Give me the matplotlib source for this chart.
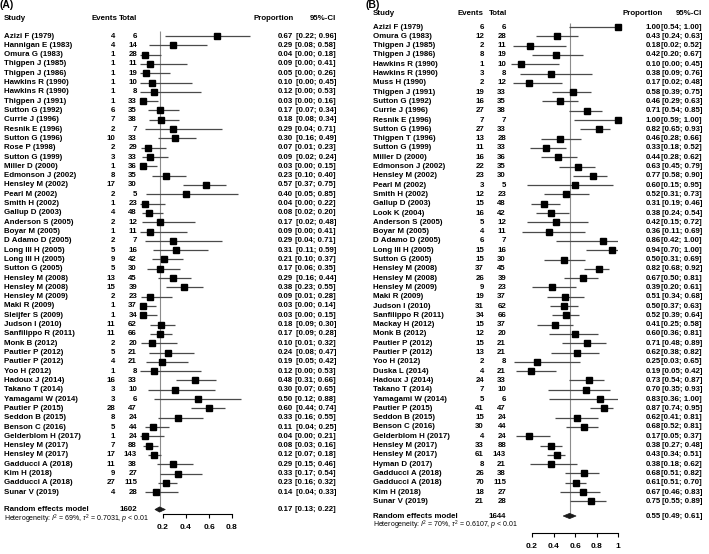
import matplotlib
matplotlib.use("Agg")
import matplotlib.pyplot as plt
from matplotlib.patches import Polygon
from matplotlib.transforms import blended_transform_factory

plt.rcParams['font.family'] = ['Liberation Sans', 'DejaVu Sans']
plt.rcParams['mathtext.fontset'] = 'custom'
plt.rcParams['mathtext.rm'] = 'Liberation Sans'
plt.rcParams['mathtext.it'] = 'Liberation Sans:italic'

# ---------------- Panel A data ----------------
studies_A = ["Azizi F (1979)", "Hannigan E (1983)", "Omura G (1983)", "Thigpen J (1985)",
             "Thigpen J (1986)", "Hawkins R (1990)", "Hawkins R (1990)", "Thigpen J (1991)",
             "Sutton G (1992)", "Currie J (1996)", "Resnik E (1996)", "Sutton G (1996)",
             "Rose P (1998)", "Sutton G (1999)", "Miller D (2000)", "Edmonson J (2002)",
             "Hensley M (2002)", "Pearl M (2002)", "Smith H (2002)", "Gallup D (2003)",
             "Anderson S (2005)", "Boyar M (2005)", "D Adamo D (2005)", "Long III H (2005)",
             "Long III H (2005)", "Sutton G (2005)", "Hensley M (2008)", "Hensley M (2008)",
             "Hensley M (2009)", "Maki R (2009)", "Sleijfer S (2009)", "Judson I (2010)",
             "Sanfilippo R (2011)", "Monk B (2012)", "Pautier P (2012)", "Pautier P (2012)",
             "Yoo H (2012)", "Hadoux J (2014)", "Takano T (2014)", "Yamagami W (2014)",
             "Pautier P (2015)", "Seddon B (2015)", "Benson C (2016)", "Gelderblom H (2017)",
             "Hensley M (2017)", "Hensley M (2017)", "Gadducci A (2018)", "Kim H (2018)",
             "Gadducci A (2018)", "Sunar V (2019)"]
events_A = [4, 4, 1, 1, 1, 1, 1, 1, 6, 7, 2, 10, 2, 3, 1, 8, 17, 2, 1, 4, 2, 1, 2, 5, 9, 5,
            13, 15, 2, 1, 1, 11, 11, 2, 5, 4, 1, 16, 3, 3, 28, 8, 5, 1, 7, 17, 11, 9, 27, 4]
total_A = [6, 14, 28, 11, 19, 10, 8, 33, 35, 38, 7, 33, 29, 33, 36, 35, 30, 5, 23, 48, 12, 11,
           7, 16, 42, 30, 45, 39, 23, 37, 34, 62, 66, 20, 21, 21, 8, 33, 10, 6, 47, 24, 44, 24,
           88, 143, 38, 27, 115, 28]
prop_A = [0.67, 0.29, 0.04, 0.09, 0.05, 0.10, 0.12, 0.03, 0.17, 0.18, 0.29, 0.30, 0.07, 0.09,
          0.03, 0.23, 0.57, 0.40, 0.04, 0.08, 0.17, 0.09, 0.29, 0.31, 0.21, 0.17, 0.29, 0.38,
          0.09, 0.03, 0.03, 0.18, 0.17, 0.10, 0.24, 0.19, 0.12, 0.48, 0.30, 0.50, 0.60, 0.33,
          0.11, 0.04, 0.08, 0.12, 0.29, 0.33, 0.23, 0.14]
lo_A = [0.22, 0.08, 0.00, 0.00, 0.00, 0.00, 0.00, 0.00, 0.07, 0.08, 0.04, 0.16, 0.01, 0.02,
        0.00, 0.10, 0.37, 0.05, 0.00, 0.02, 0.02, 0.00, 0.04, 0.11, 0.10, 0.06, 0.16, 0.23,
        0.01, 0.00, 0.00, 0.09, 0.09, 0.01, 0.08, 0.05, 0.00, 0.31, 0.07, 0.12, 0.44, 0.16,
        0.04, 0.00, 0.03, 0.07, 0.15, 0.17, 0.16, 0.04]
hi_A = [0.96, 0.58, 0.18, 0.41, 0.26, 0.45, 0.53, 0.16, 0.34, 0.34, 0.71, 0.49, 0.23, 0.24,
        0.15, 0.40, 0.75, 0.85, 0.22, 0.20, 0.48, 0.41, 0.71, 0.59, 0.37, 0.35, 0.44, 0.55,
        0.28, 0.14, 0.15, 0.30, 0.28, 0.32, 0.47, 0.42, 0.53, 0.66, 0.65, 0.88, 0.74, 0.55,
        0.25, 0.21, 0.16, 0.18, 0.46, 0.54, 0.32, 0.33]
pooled_A = [0.17, 0.13, 0.22]
n_total_A = 1602
het_A = r"Heterogeneity: $I^2$ = 69%, $\tau^2$ = 0.7031, $p$ < 0.01"
ticks_A = [0.2, 0.4, 0.6, 0.8]
ticklabels_A = ["0.2", "0.4", "0.6", "0.8"]

# ---------------- Panel B data ----------------
studies_B = ["Azizi F (1979)", "Omura G (1983)", "Thigpen J (1985)", "Thigpen J (1986)",
             "Hawkins R (1990)", "Hawkins R (1990)", "Muss H (1990)", "Thigpen J (1991)",
             "Sutton G (1992)", "Currie J (1996)", "Resnik E (1996)", "Sutton G (1996)",
             "Thigpen T (1996)", "Sutton G (1999)", "Miller D (2000)", "Edmonson J (2002)",
             "Hensley M (2002)", "Pearl M (2002)", "Smith H (2002)", "Gallup D (2003)",
             "Look K (2004)", "Anderson S (2005)", "Boyar M (2005)", "D Adamo D (2005)",
             "Long III H (2005)", "Sutton G (2005)", "Hensley M (2008)", "Hensley M (2008)",
             "Hensley M (2009)", "Maki R (2009)", "Judson I (2010)", "Sanfilippo R (2011)",
             "Mackay H (2012)", "Monk B (2012)", "Pautier P (2012)", "Pautier P (2012)",
             "Yoo H (2012)", "Duska L (2014)", "Hadoux J (2014)", "Takano T (2014)",
             "Yamagami W (2014)", "Pautier P (2015)", "Seddon B (2015)", "Benson C (2016)",
             "Gelderblom H (2017)", "Hensley M (2017)", "Hensley M (2017)", "Hyman D (2017)",
             "Gadducci A (2018)", "Gadducci A (2018)", "Kim H (2018)", "Sunar V (2019)"]
events_B = [6, 12, 2, 8, 1, 3, 2, 19, 16, 27, 7, 27, 13, 11, 16, 22, 23, 3, 12, 15, 16, 5, 4,
            6, 15, 15, 37, 26, 9, 19, 31, 34, 15, 12, 15, 13, 2, 4, 24, 7, 5, 41, 15, 30, 4,
            33, 61, 8, 26, 70, 18, 21]
total_B = [6, 28, 11, 19, 10, 8, 12, 33, 35, 38, 7, 33, 28, 33, 36, 35, 30, 5, 23, 48, 42, 12,
           11, 7, 16, 30, 45, 39, 23, 37, 62, 66, 37, 20, 21, 21, 8, 21, 33, 10, 6, 47, 24, 44,
           24, 88, 143, 21, 38, 115, 27, 28]
prop_B = [1.00, 0.43, 0.18, 0.42, 0.10, 0.38, 0.17, 0.58, 0.46, 0.71, 1.00, 0.82, 0.46, 0.33,
          0.44, 0.63, 0.77, 0.60, 0.52, 0.31, 0.38, 0.42, 0.36, 0.86, 0.94, 0.50, 0.82, 0.67,
          0.39, 0.51, 0.50, 0.52, 0.41, 0.60, 0.71, 0.62, 0.25, 0.19, 0.73, 0.70, 0.83, 0.87,
          0.62, 0.68, 0.17, 0.38, 0.43, 0.38, 0.68, 0.61, 0.67, 0.75]
lo_B = [0.54, 0.24, 0.02, 0.20, 0.00, 0.09, 0.02, 0.39, 0.29, 0.54, 0.59, 0.65, 0.28, 0.18,
        0.28, 0.45, 0.58, 0.15, 0.31, 0.19, 0.24, 0.15, 0.11, 0.42, 0.70, 0.31, 0.68, 0.50,
        0.20, 0.34, 0.37, 0.39, 0.25, 0.36, 0.48, 0.38, 0.03, 0.05, 0.54, 0.35, 0.36, 0.74,
        0.41, 0.52, 0.05, 0.27, 0.34, 0.18, 0.51, 0.51, 0.46, 0.55]
hi_B = [1.00, 0.63, 0.52, 0.67, 0.45, 0.76, 0.48, 0.75, 0.63, 0.85, 1.00, 0.93, 0.66, 0.52,
        0.62, 0.79, 0.90, 0.95, 0.73, 0.46, 0.54, 0.72, 0.69, 1.00, 1.00, 0.69, 0.92, 0.81,
        0.61, 0.68, 0.63, 0.64, 0.58, 0.81, 0.89, 0.82, 0.65, 0.42, 0.87, 0.93, 1.00, 0.95,
        0.81, 0.81, 0.37, 0.48, 0.51, 0.62, 0.82, 0.70, 0.83, 0.89]
pooled_B = [0.55, 0.49, 0.61]
n_total_B = 1644
het_B = r"Heterogeneity: $I^2$ = 70%, $\tau^2$ = 0.6107, $p$ < 0.01"
ticks_B = [0.2, 0.4, 0.6, 0.8, 1.0]
ticklabels_B = ["0.2", "0.4", "0.6", "0.8", "1"]

W, H = 709, 554
fig = plt.figure(figsize=(W / 100, H / 100), dpi=100)

FS = 5.7
FS_HET = 5.0
LINE_COL = '#4a4a4a'


def panel(label, studies, events, total, prop, lo, hi, pooled, ntot, het, ticks, ticklabels,
          lay):
    x0px, unit = lay['x0'], lay['unit']
    y0, dy = lay['y0'], lay['dy']
    ax = fig.add_axes([x0px / W, 0, unit / W, 1])
    ax.set_xlim(0, 1)
    r_top = (0 - y0) / dy
    r_bot = (H - y0) / dy
    ax.set_ylim(r_bot, r_top)

    def row(py):
        return (py - y0) / dy

    tr = blended_transform_factory(fig.transFigure, ax.transData)

    def fx(px):
        return px / W

    n = len(studies)
    rows = list(range(n))
    r_sum = row(lay['py_sum'])
    r_het = row(lay['py_het'])
    r_head = row(lay['py_head'])

    ax.vlines(pooled[0], row(lay['py_vtop']), r_sum, color='#8c8c8c', lw=0.8, zorder=1)
    ax.hlines(rows, lo, hi, color=LINE_COL, lw=0.9, zorder=2)
    ax.plot(prop, rows, 's', ms=5.0, color='black', zorder=3, clip_on=False)
    h = 0.28
    diamond = Polygon([(pooled[1], r_sum), (pooled[0], r_sum - h), (pooled[2], r_sum),
                       (pooled[0], r_sum + h)], closed=True, facecolor='#1a1a1a',
                      edgecolor='#1a1a1a', lw=0.5, zorder=3)
    ax.add_patch(diamond)

    for s in ['top', 'left', 'right']:
        ax.spines[s].set_visible(False)
    ax.spines['bottom'].set_position(('data', row(lay['py_axis'])))
    ax.spines['bottom'].set_bounds(ticks[0], ticks[-1])
    ax.spines['bottom'].set_linewidth(0.8)
    ax.set_yticks([])
    ax.set_xticks(ticks)
    ax.set_xticklabels(ticklabels, fontsize=6.0, fontweight='bold')
    ax.tick_params(axis='x', direction='out', length=3, width=0.8, pad=4.5)
    ax.patch.set_visible(False)

    fig.text(fx(lay['lab_x']), 1 - lay['lab_y'] / H, label, fontsize=7.5, fontweight='bold',
             ha='left', va='top')

    c = lay['cols']
    hk = dict(transform=tr, fontsize=FS, fontweight='bold', va='center')
    ax.text(fx(c['study']), r_head, "Study", ha='left', **hk)
    ax.text(fx(c['ev_h']), r_head, "Events", ha='right', **hk)
    ax.text(fx(c['tot_h']), r_head, "Total", ha='right', **hk)
    ax.text(fx(c['prop_h']), r_head, "Proportion", ha='right', **hk)
    ax.text(fx(c['ci_h']), r_head, "95%-CI", ha='right', **hk)

    tk = dict(transform=tr, fontsize=FS, va='center', fontweight='bold')
    for i in range(n):
        ax.text(fx(c['study']), i, studies[i], ha='left', **tk)
        ax.text(fx(c['ev']), i, str(events[i]), ha='right', **tk)
        ax.text(fx(c['tot']), i, str(total[i]), ha='right', **tk)
        ax.text(fx(c['prop']), i, f"{prop[i]:.2f}", ha='right', **tk)
        ax.text(fx(c['ci']), i, f"[{lo[i]:.2f}; {hi[i]:.2f}]", ha='right', **tk)

    ax.text(fx(c['study']), r_sum, "Random effects model", ha='left', **tk)
    ax.text(fx(c['tot']), r_sum, str(ntot), ha='right', **tk)
    ax.text(fx(c['prop']), r_sum, f"{pooled[0]:.2f}", ha='right', **tk)
    ax.text(fx(c['ci']), r_sum, f"[{pooled[1]:.2f}; {pooled[2]:.2f}]", ha='right', **tk)
    ax.text(fx(c['study']), r_het, het, ha='left', transform=tr, fontsize=FS_HET, va='center')
    return ax


lay_A = dict(x0=140, unit=115, y0=36, dy=9.31, py_sum=509.5, py_het=519.5, py_head=18,
             py_axis=513.5, py_vtop=31, lab_x=0, lab_y=0,
             cols=dict(study=4, ev=115, tot=137, prop=293, ci=336,
                       ev_h=117, tot_h=137, prop_h=294, ci_h=336))
lay_B = dict(x0=510.5, unit=107.5, y0=27, dy=9.3, py_sum=516, py_het=525.5, py_head=13,
             py_axis=533, py_vtop=23, lab_x=365, lab_y=0,
             cols=dict(study=373, ev=484, tot=506, prop=661, ci=702,
                       ev_h=483, tot_h=507, prop_h=663, ci_h=702))

panel("(A)", studies_A, events_A, total_A, prop_A, lo_A, hi_A, pooled_A, n_total_A, het_A,
      ticks_A, ticklabels_A, lay_A)
panel("(B)", studies_B, events_B, total_B, prop_B, lo_B, hi_B, pooled_B, n_total_B, het_B,
      ticks_B, ticklabels_B, lay_B)

fig.savefig("out.png", dpi=100, facecolor='white')
